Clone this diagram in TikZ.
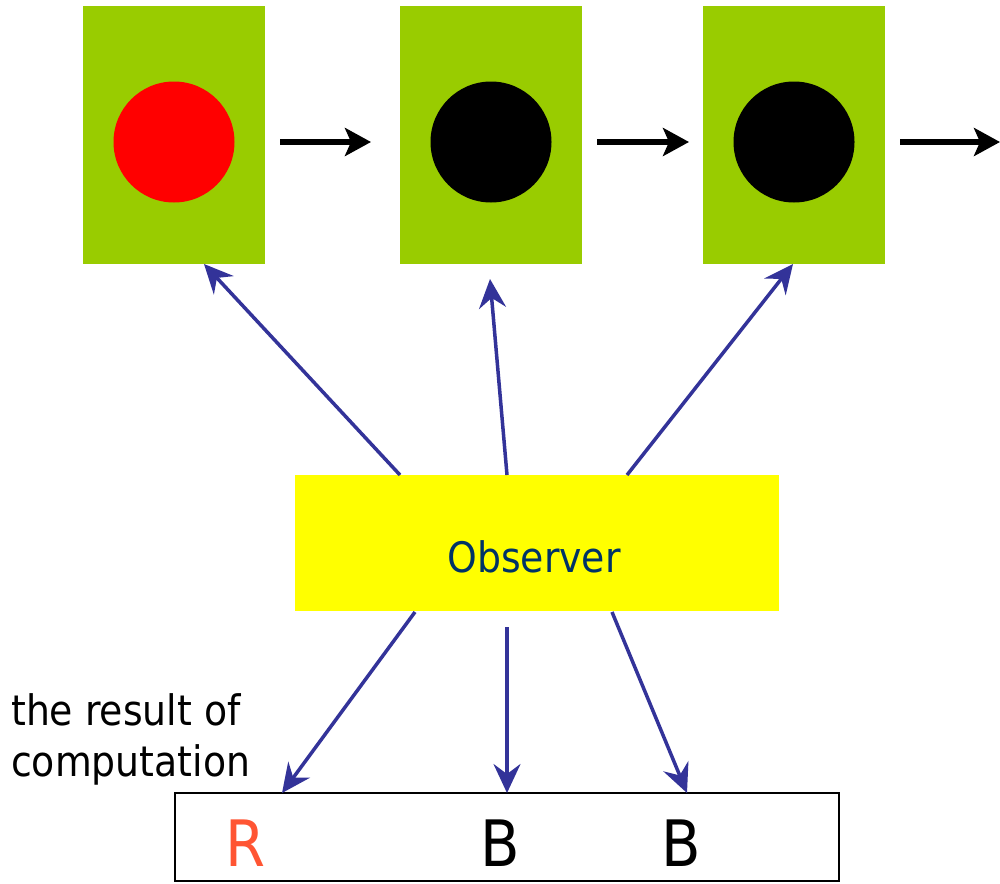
\documentclass[tikz,border=0pt]{standalone}
\usepackage{fontspec}
\setmainfont{DejaVu Sans Condensed}
\usetikzlibrary{arrows.meta}
\definecolor{grn}{HTML}{99CC00}
\definecolor{ylw}{HTML}{FFFF00}
\definecolor{obsblue}{HTML}{333399}
\definecolor{obstext}{HTML}{003366}
\definecolor{rred}{HTML}{FF5533}
\tikzset{
  state/.style={fill=grn,draw=none,inner sep=0pt,minimum width=182pt,minimum height=258pt},
  dot/.style={circle,inner sep=0pt,minimum size=121pt,draw=none},
  nextarrow/.style={draw=black,line width=5.5pt,-{Stealth[length=26pt,width=28pt,inset=6pt]}},
  obsarrow/.style={draw=obsblue,line width=3.5pt,-{Stealth[length=29pt,width=27pt,inset=10pt]}},
  lbl/.style={font=\fontsize{42}{50}\selectfont,inner sep=0pt},
  letter/.style={font=\fontsize{64}{70}\selectfont,inner sep=0pt}
}
\begin{document}
\begin{tikzpicture}[x=1pt,y=-1pt]
\useasboundingbox (0,0) rectangle (1000,883);
% states
\node[state] (s1) at (174,135) {};
\node[state] (s2) at (491,135) {};
\node[state] (s3) at (794,135) {};
\node[dot,fill=red] (c1) at (174,142) {};
\node[dot,fill=black] (c2) at (491,142) {};
\node[dot,fill=black] (c3) at (794,142) {};
\coordinate (a1s) at (280,142); \coordinate (a1e) at (371,142);
\coordinate (a2s) at (597,142); \coordinate (a2e) at (689,142);
\coordinate (a3s) at (900,142); \coordinate (a3e) at (1000,142);
\draw[nextarrow] (a1s) -- (a1e);
\draw[nextarrow] (a2s) -- (a2e);
\draw[nextarrow] (a3s) -- (a3e);
% observer
\node[fill=ylw,inner sep=0pt,minimum width=484pt,minimum height=136pt] (obs) at (537,543) {};
\node[lbl,text=obstext,anchor=base] (obst) at (534,572) {Observer};
% result box
\node[draw=black,line width=1.5pt,inner sep=0pt,minimum width=664pt,minimum height=88pt] (res) at (507,837) {};
\node[letter,text=rred,anchor=base] (r1) at (245,866) {R};
\node[letter,text=black,anchor=base] (r2) at (500,866) {B};
\node[letter,text=black,anchor=base] (r3) at (681,866) {B};
\node[lbl,anchor=base west] (t1) at (11,725) {the result of};
\node[lbl,anchor=base west] (t2) at (11,776) {computation};
% observer arrows up
\coordinate (u1s) at (400,475); \coordinate (u1e) at (204,264);
\coordinate (u2s) at (507,475); \coordinate (u2e) at (490,279);
\coordinate (u3s) at (627,475); \coordinate (u3e) at (793,264);
\draw[obsarrow] (u1s) -- (u1e);
\draw[obsarrow] (u2s) -- (u2e);
\draw[obsarrow] (u3s) -- (u3e);
% observer arrows down
\coordinate (d1s) at (415,612); \coordinate (d1e) at (282,793);
\coordinate (d2s) at (507,627); \coordinate (d2e) at (507,793);
\coordinate (d3s) at (612,612); \coordinate (d3e) at (687,793);
\draw[obsarrow] (d1s) -- (d1e);
\draw[obsarrow] (d2s) -- (d2e);
\draw[obsarrow] (d3s) -- (d3e);
\end{tikzpicture}
\end{document}
